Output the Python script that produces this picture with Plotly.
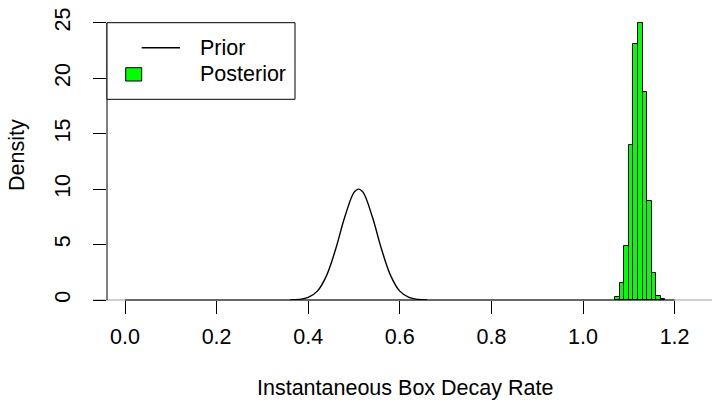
import plotly.graph_objects as go

# ---- data ----
prior_x = [0.36, 0.38, 0.40, 0.42, 0.44, 0.46, 0.48, 0.50, 0.51, 0.52, 0.54, 0.56, 0.58, 0.60, 0.62, 0.64, 0.66]
prior_y = [0.01, 0.05, 0.23, 0.80, 2.20, 4.60, 7.50, 9.70, 10.0, 9.70, 7.50, 4.60, 2.20, 0.80, 0.23, 0.05, 0.01]

post_bin_left = [1.07, 1.08, 1.09, 1.10, 1.11, 1.12, 1.13, 1.14, 1.15, 1.16, 1.17]
post_density = [0.3, 1.5, 4.9, 14.0, 23.1, 25.0, 18.8, 8.9, 2.45, 0.4, 0.1]
bin_width = 0.01

x_ticks = [0.0, 0.2, 0.4, 0.6, 0.8, 1.0, 1.2]
x_tick_labels = ["0.0", "0.2", "0.4", "0.6", "0.8", "1.0", "1.2"]
y_ticks = [0, 5, 10, 15, 20, 25]
y_tick_labels = ["0", "5", "10", "15", "20", "25"]

x_title = "Instantaneous Box Decay Rate"
y_title = "Density"
legend_labels = ["Prior", "Posterior"]

# ---- layout geometry ----
W, H = 712, 402
ML, MR, MT, MB = 107, 0, 0, 102
PW, PH = W - ML - MR, H - MT - MB
FONT = "Liberation Sans, Arial, sans-serif"
FS = 21.5
X0_PIX, X_PER_UNIT = 125.0, 458.0


def px(xp):
    return (xp - ML) / PW


def py(yp):
    return 1 - (yp - MT) / PH


fig = go.Figure()

fig.add_trace(go.Bar(
    x=post_bin_left, y=post_density, width=bin_width, offset=0,
    marker=dict(color="#00ff00", line=dict(color="black", width=1)),
    showlegend=False, hoverinfo="skip",
))
fig.add_trace(go.Scatter(
    x=prior_x, y=prior_y, mode="lines",
    line=dict(color="black", width=1.4, shape="spline", smoothing=1.0),
    showlegend=False, hoverinfo="skip",
))

shapes = [
    # grey baseline
    dict(type="line", xref="paper", yref="paper", x0=px(93), x1=1, y0=0, y1=0,
         line=dict(color="#a0a0a0", width=1.2), layer="below"),
    # x axis line (from first to last tick)
    dict(type="line", xref="x", yref="paper", x0=x_ticks[0], x1=x_ticks[-1], y0=0, y1=0,
         line=dict(color="black", width=1), layer="below"),
    # y axis line (from first to last tick)
    dict(type="line", xref="paper", yref="y", x0=0, x1=0, y0=y_ticks[0], y1=y_ticks[-1],
         line=dict(color="black", width=1)),
    # legend box
    dict(type="rect", xref="paper", yref="paper", x0=px(107), x1=px(295), y0=py(22.7), y1=py(99.3),
         line=dict(color="black", width=1), fillcolor="white"),
    # legend line sample
    dict(type="line", xref="paper", yref="paper", x0=px(141.7), x1=px(180), y0=py(47.7), y1=py(47.7),
         line=dict(color="black", width=1.4)),
    # legend fill sample
    dict(type="rect", xref="paper", yref="paper", x0=px(125.7), x1=px(141.7), y0=py(67.7), y1=py(81),
         line=dict(color="black", width=1), fillcolor="#00ff00"),
]

annotations = [
    dict(text=legend_labels[0], xref="paper", yref="paper", x=px(198), y=py(48),
         xanchor="left", yanchor="middle", showarrow=False, font=dict(family=FONT, size=FS, color="black")),
    dict(text=legend_labels[1], xref="paper", yref="paper", x=px(198), y=py(74),
         xanchor="left", yanchor="middle", showarrow=False, font=dict(family=FONT, size=FS, color="black")),
    dict(text=x_title, xref="paper", yref="paper", x=px(405), y=py(388),
         xanchor="center", yanchor="middle", showarrow=False, font=dict(family=FONT, size=FS, color="black")),
    dict(text=y_title, xref="paper", yref="paper", x=px(17), y=py(155), textangle=-90,
         xanchor="center", yanchor="middle", showarrow=False, font=dict(family=FONT, size=FS, color="black")),
]

fig.update_layout(
    width=W, height=H,
    margin=dict(l=ML, r=MR, t=MT, b=MB, pad=0),
    paper_bgcolor="white", plot_bgcolor="white",
    font=dict(family=FONT, size=FS, color="black"),
    bargap=0,
    shapes=shapes, annotations=annotations,
    xaxis=dict(range=[(ML - X0_PIX) / X_PER_UNIT, (W - X0_PIX) / X_PER_UNIT],
               tickvals=x_ticks, ticktext=x_tick_labels,
               ticks="outside", ticklen=13, tickwidth=1, tickcolor="black",
               ticklabelstandoff=4,
               showgrid=False, zeroline=False, showline=False),
    yaxis=dict(range=[0, 300 / 11.09],
               tickvals=y_ticks, ticktext=y_tick_labels, tickangle=-90,
               ticks="outside", ticklen=13, tickwidth=1, tickcolor="black",
               ticklabelstandoff=14,
               showgrid=False, zeroline=False, showline=False),
)

fig.write_html("out.html")
